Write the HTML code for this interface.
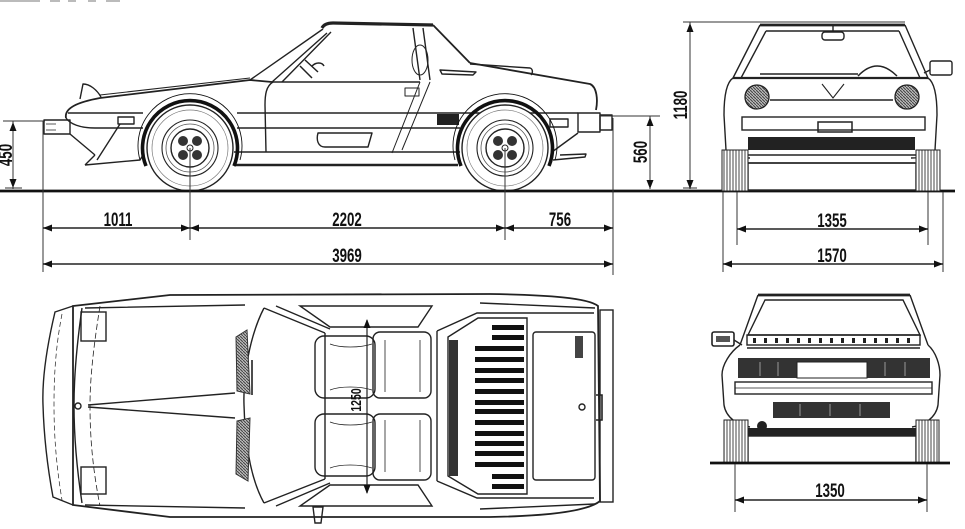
<!DOCTYPE html>
<html><head><meta charset="utf-8"><style>
html,body{margin:0;padding:0;background:#fff;}
svg{display:block;}
text{font-family:"Liberation Sans",sans-serif;font-weight:bold;fill:#111;}
</style></head><body>
<svg width="965" height="529" viewBox="0 0 965 529" xmlns="http://www.w3.org/2000/svg">
<defs>
<pattern id="hv" width="3" height="4" patternUnits="userSpaceOnUse"><rect width="3" height="4" fill="#fff"/><line x1="1" y1="0" x2="1" y2="4" stroke="#555" stroke-width="1.1"/></pattern>
<pattern id="hd" width="3" height="3" patternUnits="userSpaceOnUse"><rect width="3" height="3" fill="#bbb"/><line x1="0" y1="0" x2="3" y2="3" stroke="#444" stroke-width="1"/></pattern>
<g id="wheel">
<circle r="43" fill="#fff" stroke="#222" stroke-width="1.4"/>
<circle r="38" fill="none" stroke="#777" stroke-width="0.7"/>
<circle r="28" fill="none" stroke="#222" stroke-width="1.1"/>
<circle r="24" fill="none" stroke="#555" stroke-width="0.8"/>
<circle r="19" fill="none" stroke="#222" stroke-width="1.4"/>
<circle cx="-7" cy="-7" r="5" fill="#333"/><circle cx="7" cy="-7" r="5" fill="#333"/>
<circle cx="-7" cy="7" r="5" fill="#333"/><circle cx="7" cy="7" r="5" fill="#333"/>
<circle r="3" fill="#fff" stroke="#222" stroke-width="1"/>
</g>
</defs>
<rect width="965" height="529" fill="#fff"/>

<!-- partial header text remnants -->
<g fill="#bbb"><rect x="0" y="0" width="40" height="2"/><rect x="50" y="0" width="10" height="2"/><rect x="68" y="0" width="8" height="2"/><rect x="88" y="0" width="8" height="2"/><rect x="106" y="0" width="14" height="2"/></g>

<!-- ============ SIDE VIEW ============ -->
<g fill="none" stroke="#222" stroke-width="1.4" stroke-linejoin="round">
<path d="M66,118 C64,108 78,102 100,98 L250,80 L272,82" stroke-width="1.8"/>
<path d="M100,95 L250,78" stroke-width="1"/>
<path d="M80,99 L83,84 C90,84 97,90 101,97"/>
<path d="M68,113 L143,113"/>
<path d="M66,118 C70,124 80,128 95,128 L143,128"/>
<rect x="44" y="120" width="26" height="14"/>
<path d="M46,124 H56 M46,130 H56" stroke-width="0.8"/>
<rect x="118" y="117" width="16" height="7"/>
<path d="M70,134 L95,155 M85,165 L140,160 L143,155 M85,165 L95,155 M120,124 L97,160"/>
<path d="M237,113 H578"/>
<path d="M237,128 H460"/>
<path d="M234,152 H460"/>
<path d="M234,165 H458" stroke-width="2.4"/>
<path d="M273,82 C266,86 265,95 265,105 L266,152"/>
<path d="M272,82 H420"/>
<path d="M318,133 H372 L368,147 H325 C318,147 316,140 318,133 Z"/>
<path d="M420,82 L392,153 M430,82 L402,150" stroke-width="1"/>
<rect x="405" y="88" width="14" height="8" stroke-width="1"/>
<ellipse cx="420" cy="60" rx="8" ry="15" stroke-width="1"/>
<path d="M250,80 L323,29 M272,82 L327,33 M282,82 L331,32"/>
<path d="M300,66 L312,78 M305,60 L318,72 M312,66 C316,62 322,62 324,66" stroke-width="1.5"/>
<path d="M322,28 C324,24 328,23 333,23 L433,25" stroke-width="3.2"/>
<path d="M413,28 L420,80 M423,28 L430,80"/>
<path d="M433,25 L470,63" stroke-width="1.8"/>
<path d="M470,63 L590,84 C597,87 598,100 596,110" stroke-width="1.8"/>
<path d="M440,70 L476,72 L473,75 L442,74 Z"/>
<path d="M470,64 L530,68 C533,69 533,73 531,75"/>
<path d="M552,152 L578,133"/>
<rect x="578" y="113" width="22" height="19"/>
<rect x="600" y="115" width="12" height="15"/>
<rect x="550" y="119" width="18" height="8"/>
<path d="M553,160 L585,157 L586,154 L560,155"/>
</g>
<rect x="437" y="114" width="22" height="11" fill="#222"/>
<use href="#wheel" transform="translate(190,148)"/>
<use href="#wheel" transform="translate(505,148)"/>
<g fill="none" stroke="#111">
<path d="M146,166 A47.5,47.5 0 1 1 234,166" stroke-width="3.6"/>
<path d="M140,160 A52,52 0 1 1 240,160" stroke-width="0.9"/>
<path d="M461,166 A47.5,47.5 0 1 1 549,166" stroke-width="3.6"/>
<path d="M455,160 A52,52 0 1 1 555,160" stroke-width="0.9"/>
</g>

<path d="M0,191 H955" stroke="#111" stroke-width="2.8"/>

<g stroke="#333" stroke-width="1" fill="none">
<path d="M43,121 V272 M613,118 V275 M190,148 V240 M505,148 V240"/>
<path d="M43,228 H613 M43,264 H613" stroke="#222" stroke-width="1.4"/>
<path d="M13,121 V189 M3,121 H45 M5,188 H22"/>
<path d="M650,116 V189 M600,116 H660"/>
<path d="M690,22 V189 M683,22 H905 M683,188 H697"/>
</g>
<g fill="#111">
<polygon points="43,228 52,224.5 52,231.5"/>
<polygon points="190,228 181,224.5 181,231.5"/><polygon points="190,228 199,224.5 199,231.5"/>
<polygon points="505,228 496,224.5 496,231.5"/><polygon points="505,228 514,224.5 514,231.5"/>
<polygon points="613,228 604,224.5 604,231.5"/>
<polygon points="43,264 52,260.5 52,267.5"/><polygon points="613,264 604,260.5 604,267.5"/>
<polygon points="13,122 9.5,131 16.5,131"/><polygon points="13,188 9.5,179 16.5,179"/>
<polygon points="650,117 646.5,126 653.5,126"/><polygon points="650,189 646.5,180 653.5,180"/>
<polygon points="690,23 686.5,32 693.5,32"/><polygon points="690,189 686.5,180 693.5,180"/>
</g>
<g font-size="19" text-anchor="middle">
<text transform="translate(118,226) scale(0.7,1)">1011</text>
<text transform="translate(347,226) scale(0.7,1)">2202</text>
<text transform="translate(560,226) scale(0.7,1)">756</text>
<text transform="translate(347,262) scale(0.7,1)">3969</text>
<text transform="translate(832,227) scale(0.7,1)">1355</text>
<text transform="translate(832,262) scale(0.7,1)">1570</text>
<text transform="translate(830,497) scale(0.7,1)">1350</text>
<text transform="translate(12,155) rotate(-90) scale(0.7,1)">450</text>
<text transform="translate(647,152) rotate(-90) scale(0.7,1)">560</text>
<text transform="translate(687,105) rotate(-90) scale(0.7,1)">1180</text>
</g>

<!-- ============ FRONT VIEW ============ -->
<g fill="none" stroke="#222" stroke-width="1.4">
<path d="M760,25 L905,25" stroke-width="2.8"/>
<path d="M760,25 L733,78 M905,25 L928,78"/>
<path d="M766,31 H899 M766,31 L741,78 M899,31 L920,78"/>
<rect x="822" y="32" width="22" height="8" rx="3"/>
<path d="M833,25 V32"/>
<path d="M733,78 H928" stroke-width="2.2"/>
<path d="M760,74 H858" stroke-width="1.6"/>
<path d="M858,76 Q877,56 897,76" stroke-width="1.5"/>
<rect x="930" y="61" width="22" height="14" rx="2"/>
<path d="M924,73 L930,70"/>
<path d="M733,78 C727,82 724,95 724,115 L726,150 C728,156 740,158 750,158"/>
<path d="M928,78 C934,82 937,95 937,115 L935,150 C933,156 921,158 911,158"/>
<path d="M770,100 H893"/>
<path d="M822,84 L833,98 L844,84" stroke-width="1.1"/>
<rect x="742" y="117" width="183" height="13"/>
<rect x="818" y="122" width="34" height="10" stroke-width="1.5"/>
<path d="M735,155 H925 M748,163 H915"/>
<rect x="748" y="163" width="168" height="27"/>
</g>
<g stroke="#222" stroke-width="1.3">
<circle cx="757" cy="97" r="12" fill="url(#hd)"/>
<circle cx="907" cy="97" r="12" fill="url(#hd)"/>
</g>
<rect x="748" y="137" width="167" height="13" fill="#222"/>
<rect x="722" y="150" width="26" height="41" fill="url(#hv)" stroke="#222"/>
<rect x="916" y="150" width="24" height="41" fill="url(#hv)" stroke="#222"/>

<g stroke="#333" stroke-width="1" fill="none">
<path d="M737,192 V245 M928,192 V245 M723,192 V272 M943,192 V272"/>
<path d="M737,229 H928 M723,264 H943" stroke="#222" stroke-width="1.4"/>
</g>
<g fill="#111">
<polygon points="737,229 746,225.5 746,232.5"/><polygon points="928,229 919,225.5 919,232.5"/>
<polygon points="723,264 732,260.5 732,267.5"/><polygon points="943,264 934,260.5 934,267.5"/>
</g>

<!-- ============ TOP VIEW ============ -->
<g fill="none" stroke="#222" stroke-width="1.4">
<path d="M73,306 L170,295 L490,294 C550,295 588,298 598,306 L600,501 C588,511 550,516 490,517 L170,517 L73,505 Z" stroke-width="1.8"/>
<path d="M73,306 L55,312 C46,350 42,380 43,405 C44,440 48,470 53,497 L73,505"/>
<path d="M82,308 C76,350 74,380 74,405 C74,440 77,470 82,503"/>
<path d="M100,306 C93,350 90,380 90,405 C90,440 93,470 100,506" stroke-width="0.8" stroke-dasharray="6 3"/>
<path d="M62,314 C55,350 54,380 54,405 C54,440 57,470 62,500" stroke-width="0.7" stroke-dasharray="5 3"/>
<rect x="81" y="312" width="25" height="29"/>
<rect x="81" y="467" width="25" height="27"/>
<path d="M88,405 L235,393 M88,407 L235,418"/>
<circle cx="78" cy="406" r="3"/>
<path d="M85,308 L245,305 M85,505 L245,508"/>
<path d="M480,303 L595,308 M480,509 L595,504"/>
<path d="M264,308 C250,335 243,375 244,405 C245,440 250,478 264,503"/>
<path d="M264,308 L325,333 M276,306 L330,329 M264,503 L325,479 M276,506 L330,483"/>
<path d="M325,333 V479"/>
<path d="M252,360 V395" stroke-width="1.6"/>
<path d="M300,306 L432,306 L418,327 L330,327 Z"/>
<path d="M300,506 L432,506 L418,485 L330,485 Z"/>
<rect x="315" y="336" width="60" height="62" rx="9"/>
<rect x="373" y="332" width="58" height="66" rx="7"/>
<path d="M330,344 C340,348 360,348 372,344 M330,390 C340,386 360,386 372,390 M385,340 V392 M420,340 V392" stroke-width="0.8"/>
<rect x="315" y="414" width="60" height="62" rx="9"/>
<rect x="373" y="414" width="58" height="66" rx="7"/>
<path d="M330,422 C340,426 360,426 372,422 M330,468 C340,464 360,464 372,468 M385,420 V472 M420,420 V472" stroke-width="0.8"/>
<path d="M437,331 V481 M437,331 L477,313 H594 M437,481 L477,498 H594"/>
<path d="M448,337 L478,318 H527 V494 H478 L448,476 Z"/>
<rect x="533" y="332" width="62" height="148" rx="3"/>
<circle cx="582" cy="407" r="3"/>
<rect x="600" y="310" width="13" height="192"/>
<path d="M596,395 H602 V420 H596" stroke-width="1.6"/>
<path d="M313,507 L323,507 L321,523 L315,523 Z"/>
</g>
<polygon points="236,337 247,330 250,394 237,391" fill="url(#hd)" stroke="#333"/>
<polygon points="237,421 250,418 248,481 236,474" fill="url(#hd)" stroke="#333"/>
<rect x="449" y="340" width="9" height="136" fill="#333"/>
<g fill="#111">
<rect x="492" y="325" width="32" height="5"/><rect x="492" y="335" width="32" height="5"/>
<rect x="475" y="346" width="49" height="5"/><rect x="475" y="357" width="49" height="5"/>
<rect x="475" y="368" width="49" height="5"/><rect x="475" y="378" width="49" height="5"/>
<rect x="475" y="389" width="49" height="5"/><rect x="475" y="400" width="49" height="5"/>
<rect x="475" y="409" width="49" height="5"/><rect x="475" y="420" width="49" height="5"/>
<rect x="475" y="431" width="49" height="5"/><rect x="475" y="441" width="49" height="5"/>
<rect x="475" y="451" width="49" height="5"/><rect x="475" y="462" width="49" height="5"/>
<rect x="492" y="474" width="32" height="5"/><rect x="492" y="484" width="32" height="5"/>
<rect x="575" y="336" width="8" height="22" fill="#444"/>
</g>
<path d="M367,320 V493" stroke="#222" stroke-width="1.2"/>
<polygon points="367,319 363.5,328 370.5,328" fill="#111"/>
<polygon points="367,494 363.5,485 370.5,485" fill="#111"/>
<text font-size="15" text-anchor="middle" transform="translate(361,400) rotate(-90) scale(0.7,1)">1250</text>

<!-- ============ REAR VIEW ============ -->
<g fill="none" stroke="#222" stroke-width="1.4">
<path d="M758,295 H910" stroke-width="2.8"/>
<path d="M758,295 L740,345 M910,295 L928,345"/>
<path d="M765,300 L748,335 H920 L903,300 Z"/>
<rect x="747" y="335" width="173" height="10"/>
<path d="M747,348 H920"/>
<rect x="712" y="332" width="22" height="14" rx="2" stroke-width="1.6"/>
<path d="M734,340 L742,345"/>
<path d="M740,345 C730,352 722,365 722,375 L724,405 C726,418 738,425 750,427"/>
<path d="M928,345 C936,352 940,365 940,375 L938,405 C936,418 924,425 912,427"/>
<rect x="735" y="382" width="197" height="12"/>
<path d="M735,388 H932" stroke-width="0.8"/>
<rect x="748" y="436" width="168" height="27"/>
</g>
<g fill="#222">
<rect x="716" y="336" width="14" height="6" fill="#555"/>
<rect x="753" y="338" width="3" height="5"/><rect x="764" y="338" width="3" height="5"/><rect x="775" y="338" width="3" height="5"/><rect x="786" y="338" width="3" height="5"/><rect x="797" y="338" width="3" height="5"/><rect x="808" y="338" width="3" height="5"/><rect x="819" y="338" width="3" height="5"/><rect x="830" y="338" width="3" height="5"/><rect x="841" y="338" width="3" height="5"/><rect x="852" y="338" width="3" height="5"/><rect x="863" y="338" width="3" height="5"/><rect x="874" y="338" width="3" height="5"/><rect x="885" y="338" width="3" height="5"/><rect x="896" y="338" width="3" height="5"/><rect x="907" y="338" width="3" height="5"/>
<rect x="738" y="358" width="192" height="20" fill="#333"/>
<rect x="773" y="402" width="117" height="16" fill="#333"/>
<circle cx="762" cy="426" r="5"/>
<rect x="748" y="428" width="172" height="8"/>
</g>
<rect x="797" y="362" width="70" height="16" fill="#fff" stroke="#222"/>
<path d="M760,362 V376 M778,362 V376 M885,362 V376 M905,362 V376 M800,404 V416 M830,404 V416 M860,404 V416" stroke="#999" stroke-width="1"/>
<rect x="724" y="420" width="24" height="43" fill="url(#hv)" stroke="#222"/>
<rect x="916" y="420" width="23" height="43" fill="url(#hv)" stroke="#222"/>
<path d="M710,463 H950" stroke="#111" stroke-width="2.8"/>
<g stroke="#333" stroke-width="1" fill="none">
<path d="M735,464 V512 M927,464 V512"/>
<path d="M735,500 H927" stroke="#222" stroke-width="1.4"/>
</g>
<polygon points="735,500 744,496.5 744,503.5" fill="#111"/>
<polygon points="927,500 918,496.5 918,503.5" fill="#111"/>
</svg>
</body></html>
